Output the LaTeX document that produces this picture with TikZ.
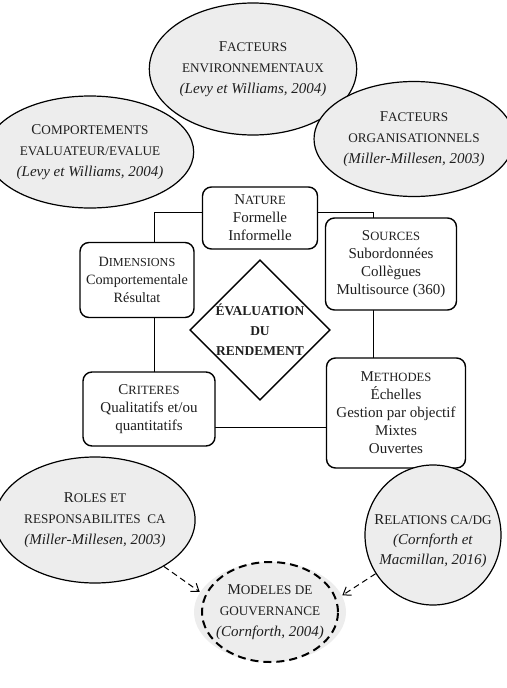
\documentclass[tikz,border=0pt]{standalone}
\usepackage{fontspec}
\setmainfont{Liberation Serif}
\usetikzlibrary{shapes.geometric,arrows.meta}
\newcommand\fsc[2]{#1{\fontsize{\scsz}{\baselineskip}\selectfont #2}}
\def\scsz{12}
\definecolor{ovalfill}{gray}{0.93}
\definecolor{ink}{gray}{0.12}
\begin{document}
\begin{tikzpicture}[x=1pt,y=-1pt,
  oval/.style={ellipse, draw=black, line width=1.2pt, fill=ovalfill, inner sep=0pt,
    align=center, text=ink, font={\def\scsz{13.2}\fontsize{15}{21}\selectfont}},
  ovtext/.style={align=center, text=ink, inner sep=0pt, font={\def\scsz{13.2}\fontsize{15}{20}\selectfont}},
  boxn/.style={draw=black, rounded corners=9pt, line width=1.4pt, fill=white, inner sep=0pt,
    align=center, text=ink, font={\def\scsz{12.6}\fontsize{15}{18}\selectfont}},
  framel/.style={line width=0.8pt},
  darr/.style={dash pattern=on 6pt off 4pt, line width=1pt,
    -{Straight Barb[length=7pt,width=10pt]}}
]
\useasboundingbox (0,0) rectangle (506,688);

% frame joining the boxes
\coordinate (fa) at (154,212);
\coordinate (fb) at (373,427);
\draw[framel] (fa) rectangle (fb);

% outer ovals
\node[oval, minimum width=176pt, minimum height=132pt] (env) at (253,69)
  {\fsc{F}{ACTEURS}\\ \fsc{}{ENVIRONNEMENTAUX}\\ \textit{(Levy et Williams, 2004)}};
\node[oval, minimum width=170pt, minimum height=112pt] (comp) at (90,152)
  {\fsc{C}{OMPORTEMENTS}\\ \fsc{}{EVALUATEUR/EVALUE}\\ \textit{(Levy et Williams, 2004)}};
\node[oval, minimum width=162pt, minimum height=115pt] (org) at (414,139)
  {\fsc{F}{ACTEURS}\\ \fsc{}{ORGANISATIONNELS}\\ \textit{(Miller-Millesen, 2003)}};

% boxes
\node[boxn, minimum width=115pt, minimum height=62pt] (nature) at (260,218)
  {\fsc{N}{ATURE}\\ Formelle\\ Informelle};
\node[boxn, minimum width=131pt, minimum height=92pt] (sources) at (391,264)
  {\fsc{S}{OURCES}\\ Subordonnées\\ Collègues\\ Multisource (360)};
\node[boxn, minimum width=114pt, minimum height=75pt,
  font={\def\scsz{12.2}\fontsize{14.2}{18}\selectfont}] (dims) at (137,280)
  {\fsc{D}{IMENSIONS}\\ Comportementale\\ Résultat};
\node[boxn, minimum width=132pt, minimum height=74pt] (crit) at (149,409)
  {\fsc{C}{RITERES}\\ Qualitatifs et/ou\\ quantitatifs};
\node[boxn, minimum width=139pt, minimum height=110pt] (meth) at (396,413)
  {\fsc{M}{ETHODES}\\ Échelles\\ Gestion par objectif\\ Mixtes\\ Ouvertes};

% central diamond
\node[diamond, draw=black, line width=1.4pt, fill=white, inner sep=0pt, aspect=1,
  minimum width=140pt, minimum height=136pt, align=center, text=ink,
  font={\bfseries\fontsize{13.5}{20}\selectfont}] (eval) at (260,330)
  {ÉVALUATION\\ DU\\ RENDEMENT};

% lower ovals
\node[oval, minimum width=160pt, minimum height=126pt] (roles) at (95,520)
  {\fsc{R}{OLES ET}\\ \fsc{}{RESPONSABILITES\ \ CA}\\ \textit{(Miller-Millesen, 2003)}};
\node[oval, minimum width=136pt, minimum height=140pt] (rel) at (433,535) {};
\node[ovtext] (relt) at (433,541)
  {\fsc{R}{ELATIONS CA/DG}\\ \textit{(Cornforth et}\\ \textit{Macmillan, 2016)}};
\node[oval, draw=none, minimum width=136pt, minimum height=100pt] (model) at (270,612)
  {\fsc{M}{ODELES DE}\\ \fsc{}{GOUVERNANCE}\\ \textit{(Cornforth, 2004)}};
\draw[line width=2pt, dash pattern=on 8pt off 5pt] (model.center) ellipse [x radius=68pt, y radius=50pt];

% dashed arrows
\draw[darr] (roles.-34) -- (model.164);
\draw[darr] (rel.-146) -- (model.13);
\end{tikzpicture}
\end{document}
